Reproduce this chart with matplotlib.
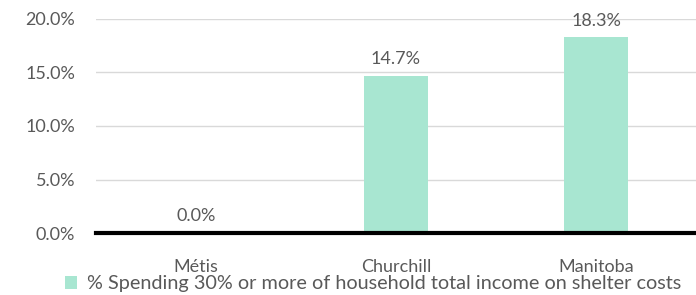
import matplotlib
matplotlib.use("Agg")
import matplotlib.pyplot as plt
from matplotlib.patches import Patch

# Daten
categories = ["Métis", "Churchill", "Manitoba"]
values = [0.0, 14.7, 18.3]
y_ticks = [0, 5, 10, 15, 20]
series_name = "% Spending 30% or more of household total income on shelter costs"

bar_color = "#A8E6D1"
text_color = "#595959"
grid_color = "#D9D9D9"

plt.rcParams["font.family"] = ["Lato", "DejaVu Sans"]

fig = plt.figure(figsize=(6.96, 2.95), dpi=100)
ax = fig.add_axes([96 / 696, 1 - 233 / 295, 600 / 696, 214 / 295])

x = range(len(categories))
ax.bar(x, values, width=0.32, color=bar_color, zorder=2)

for xi, v in zip(x, values):
    ax.annotate(f"{v:.1f}%", (xi, v), xytext=(0, 12), textcoords="offset points",
                ha="center", va="center", fontsize=13, color=text_color, clip_on=False)

ax.set_xlim(-0.5, 2.5)
ax.set_ylim(0, 20)
ax.set_yticks(y_ticks)
ax.set_yticklabels([f"{t:.1f}%" for t in y_ticks])
ax.set_xticks(list(x))
ax.set_xticklabels(categories)
ax.tick_params(axis="both", length=0, labelsize=13, labelcolor=text_color)
ax.tick_params(axis="y", pad=15)
ax.tick_params(axis="x", pad=19)

ax.grid(axis="y", color=grid_color, linewidth=1, zorder=0)
for s in ["top", "right", "left"]:
    ax.spines[s].set_visible(False)
ax.spines["bottom"].set_linewidth(3)
ax.spines["bottom"].set_color("black")
ax.spines["bottom"].set_zorder(3)

handle = Patch(facecolor=bar_color, edgecolor="none")
fig.legend([handle], [series_name], loc="center", bbox_to_anchor=(0.536, 0.038),
           frameon=False, fontsize=14.3, labelcolor=text_color,
           handlelength=0.6, handleheight=0.6, handletextpad=0.5, borderpad=0)

fig.savefig("out.png", dpi=100)
